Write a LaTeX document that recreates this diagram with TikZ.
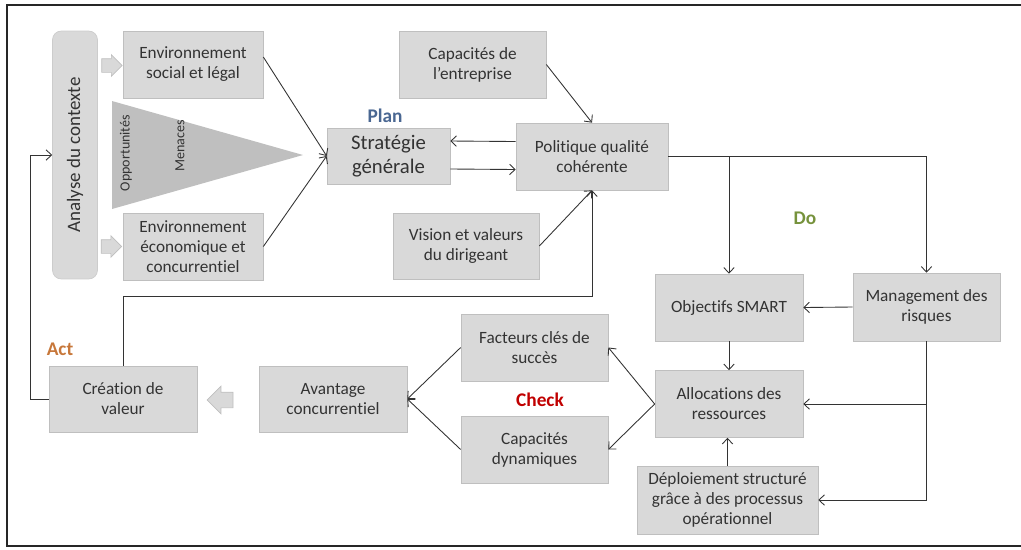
\documentclass[tikz,border=0pt]{standalone}
\usepackage{fontspec}
\setmainfont{Carlito}[Ligatures=NoCommon]
\usetikzlibrary{shapes.arrows,arrows.meta}
\definecolor{fond}{HTML}{D9D9D9}
\definecolor{bord}{HTML}{BFBFBF}
\definecolor{texte}{HTML}{333333}
\definecolor{bleuplan}{HTML}{4A6792}
\definecolor{vertdo}{HTML}{76923C}
\definecolor{rougecheck}{HTML}{C00000}
\definecolor{orangeact}{HTML}{C7773A}
\tikzset{
    boite/.style={draw=bord, fill=fond, text=texte, align=center, inner sep=0pt,
        minimum width=2.94cm, minimum height=1.34cm, font=\fontsize{9.8}{11.4}\selectfont},
    etape/.style={font=\fontsize{11}{13}\selectfont\bfseries},
    creuse/.style={single arrow, draw=bord, fill=fond, inner sep=0.13cm,
        single arrow head extend=0.08cm, minimum height=0.38cm},
    lien/.style={->, draw=black!80, line width=0.5pt}
}
\begin{document}
\begin{tikzpicture}[x=0.02cm, y=-0.02cm, >={Straight Barb[length=1.1mm,width=2.1mm]}]
\clip (0,0) rectangle (1021,549);
% cadre
\draw[line width=1.4pt, black!85] (1030,5) -- (7,5) -- (7,546) -- (1030,546);

% analyse du contexte
\node[boite, rounded corners=5pt, draw=bord!80, minimum width=0.9cm, minimum height=4.96cm,
    font=\fontsize{10.8}{13}\selectfont] (analyse) at (75,155) {\rotatebox{90}{Analyse du contexte}};
\node[creuse] (fl1) at (108.5,65.5) {};
\node[creuse] (fl2) at (108,246.5) {};
\node[boite, minimum width=2.8cm] (envsoc) at (193,64.5) {Environnement\\social et légal};
\node[boite, minimum width=2.8cm] (enveco) at (193,246.5) {Environnement\\économique et\\concurrentiel};
\fill[black!25] (112,101) -- (303,155) -- (112,209) -- cycle;
\node[rotate=90, text=texte, font=\fontsize{8}{9.5}\selectfont] (opport) at (126,153) {Opportunités};
\node[rotate=90, text=texte, font=\fontsize{8}{9.5}\selectfont] (menace) at (180,146) {Menaces};

% plan
\node[boite, minimum width=2.46cm, minimum height=1.12cm, font=\fontsize{11.8}{14}\selectfont] (strat) at (388.5,156) {Stratégie\\générale};
\node[boite, minimum width=3.04cm] (polit) at (592,156.5) {Politique qualité\\cohérente};
\node[boite] (capent) at (472.5,64.5) {Capacités de\\l’entreprise};
\node[boite, minimum width=2.92cm, minimum height=1.32cm] (vision) at (466,246) {Vision et valeurs\\du dirigeant};
\node[etape, text=bleuplan] (plan) at (385,116) {Plan};

% do
\node[boite, minimum width=2.96cm] (objectif) at (729,307.5) {Objectifs SMART};
\node[boite, minimum height=1.36cm] (manag) at (926.5,307) {Management des\\risques};
\node[boite, minimum width=2.96cm] (alloc) at (729,404) {Allocations des\\ressources};
\node[boite, minimum width=3.62cm, minimum height=1.36cm] (deploi) at (727.5,500) {Déploiement structuré\\grâce à des processus\\opérationnel};
\node[etape, text=vertdo] (do) at (805,218) {Do};

% check
\node[boite] (facteur) at (534.5,347.5) {Facteurs clés de\\succès};
\node[boite] (capdyn) at (534.5,449.5) {Capacités\\dynamiques};
\node[etape, text=rougecheck] (check) at (540,400) {Check};

% act
\node[boite, minimum width=2.96cm, minimum height=1.32cm] (avantage) at (333,399) {Avantage\\concurrentiel};
\node[boite, minimum width=2.96cm, minimum height=1.32cm] (creation) at (123,399) {Création de\\valeur};
\node[creuse, shape border rotate=180, inner sep=0.15cm, single arrow head extend=0.12cm,
    minimum height=0.52cm] (fl3) at (224,400) {};
\node[etape, text=orangeact] (act) at (60,349) {Act};

% liens
\draw[lien] ([yshift=0.15cm]envsoc.east) -- (strat.west);
\draw[lien] (enveco.east) -- (strat.west);
\draw[lien] ([yshift=0.3cm]polit.west) -- ([yshift=0.3cm]strat.east);
\draw[lien] ([yshift=-0.26cm]strat.east) -- ([yshift=-0.26cm]polit.west);
\draw[lien] (capent.east) -- (polit.north);
\draw[lien] (vision.east) -- (polit.south);
\draw[lien] (polit.east) -| (manag.north);
\draw[lien] (polit.east -| objectif.north) -- (objectif.north);
\draw[lien] (manag.west) -- (objectif.east);
\draw[lien] (objectif.south) -- (alloc.north);
\draw[lien] (deploi.north) -- (deploi.north |- alloc.south);
\draw[lien] (manag.south) |- (alloc.east);
\draw[lien] (manag.south) |- (deploi.east);
\draw[lien] (alloc.west) -- (facteur.east);
\draw[lien] (alloc.west) -- (capdyn.east);
\draw[lien] (facteur.west) -- (avantage.east);
\draw[lien] (capdyn.west) -- (avantage.east);
\draw[lien] (creation.west) -- ++(-18,0) |- (analyse.west);
\draw[lien] (creation.north) -- ++(0,-69) -| (polit.south);
\end{tikzpicture}
\end{document}
